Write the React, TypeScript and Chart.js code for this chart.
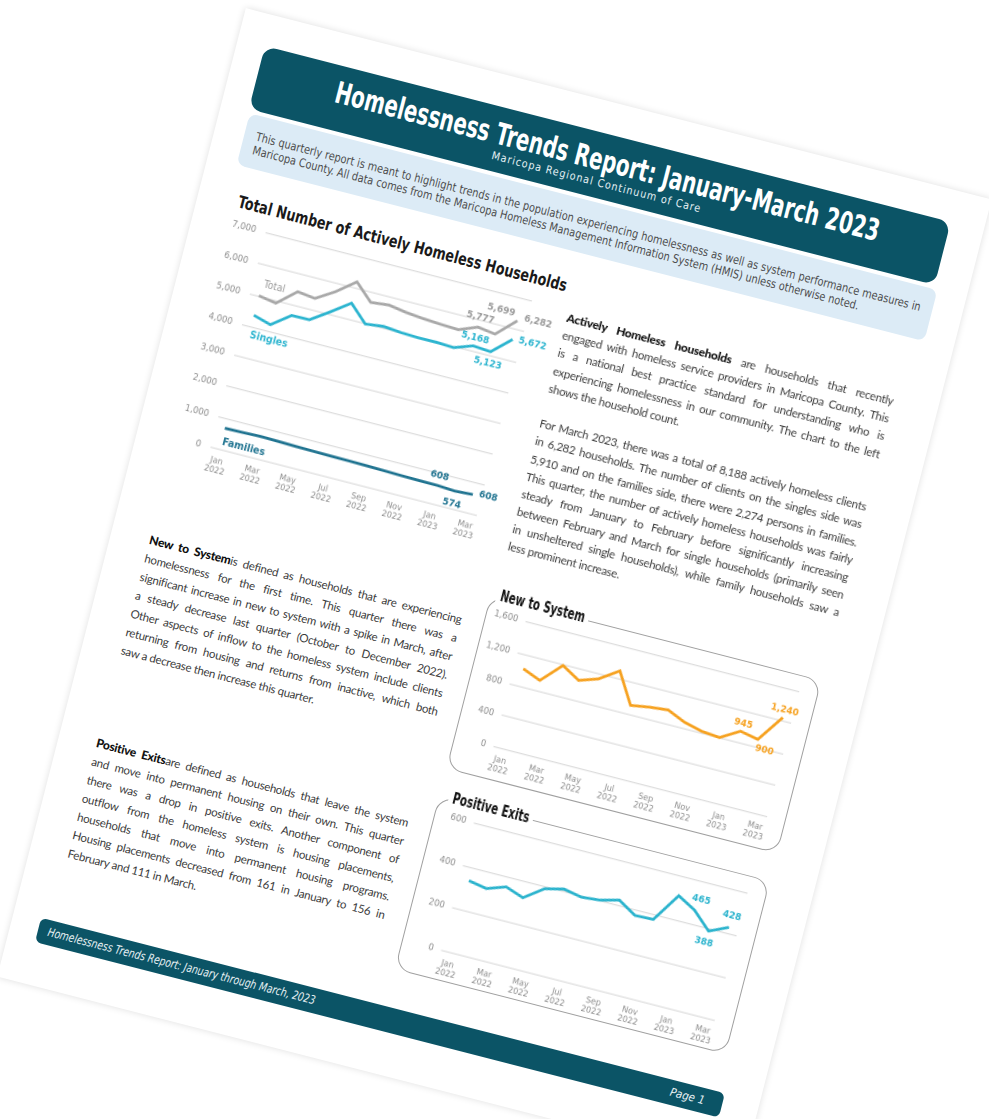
import React, { useEffect, useRef } from 'react';
import { Chart, registerables } from 'chart.js';

Chart.register(...registerables);

// ---------------- DATA ----------------
const months = [
  'Jan 2022', 'Feb 2022', 'Mar 2022', 'Apr 2022', 'May 2022', 'Jun 2022', 'Jul 2022', 'Aug 2022',
  'Sep 2022', 'Oct 2022', 'Nov 2022', 'Dec 2022', 'Jan 2023', 'Feb 2023', 'Mar 2023',
];
const totalHouseholds = [5016, 4922, 5446, 5374, 5745, 6213, 5692, 5755, 5664, 5608, 5571, 5546, 5777, 5699, 6282];
const singlesHouseholds = [4379, 4220, 4669, 4679, 5087, 5518, 4987, 5059, 5006, 4981, 4988, 4959, 5168, 5123, 5672];
const familiesHouseholds = [690, 700, 720, 705, 690, 680, 670, 665, 655, 640, 625, 615, 608, 574, 608];
const newToSystem = [1026, 936, 1188, 1056, 1136, 1298, 916, 954, 977, 880, 824, 804, 945, 900, 1240];
const positiveExits = [339, 324, 354, 325, 389, 410, 394, 402, 424, 374, 377, 511, 465, 388, 428];

const householdTicks = [0, 1000, 2000, 3000, 4000, 5000, 6000, 7000];
const newToSystemTicks = [0, 400, 800, 1200, 1600];
const positiveExitTicks = [0, 200, 400, 600];

// ---------------- TEXT ----------------
const reportTitle = 'Homelessness Trends Report: January-March 2023';
const reportSubtitle = 'Maricopa Regional Continuum of Care';
const introLines = [
  'This quarterly report is meant to highlight trends in the population experiencing homelessness as well as system performance measures in',
  'Maricopa County. All data comes from the Maricopa Homeless Management Information System (HMIS) unless otherwise noted.',
];
const mainChartTitle = 'Total Number of Actively Homeless Households';
const activeLines = [
  { b: 'Actively Homeless households', t: ' are households that recently' },
  { t: 'engaged with homeless service providers in Maricopa County. This' },
  { t: 'is a national best practice standard for understanding who is' },
  { t: 'experiencing homelessness in our community. The chart to the left' },
  { t: 'shows the household count.', end: true },
  { t: '', end: true },
  { t: 'For March 2023, there was a total of 8,188 actively homeless clients' },
  { t: 'in 6,282 households. The number of clients on the singles side was' },
  { t: '5,910 and on the families side, there were 2,274 persons in families.' },
  { t: 'This quarter, the number of actively homeless households was fairly' },
  { t: 'steady from January to February before significantly increasing' },
  { t: 'between February and March for single households (primarily seen' },
  { t: 'in unsheltered single households), while family households saw a' },
  { t: 'less prominent increase.', end: true },
];
const newSystemLines = [
  { b: 'New to System', t: 'is defined as households that are experiencing' },
  { t: 'homelessness for the first time. This quarter there was a' },
  { t: 'significant increase in new to system with a spike in March, after' },
  { t: 'a steady decrease last quarter (October to December 2022).' },
  { t: 'Other aspects of inflow to the homeless system include clients' },
  { t: 'returning from housing and returns from inactive, which both' },
  { t: 'saw a decrease then increase this quarter.', end: true },
];
const exitLines = [
  { b: 'Positive Exits', t: 'are defined as households that leave the system' },
  { t: 'and move into permanent housing on their own. This quarter' },
  { t: 'there was a drop in positive exits. Another component of' },
  { t: 'outflow from the homeless system is housing placements,' },
  { t: 'households that move into permanent housing programs.' },
  { t: 'Housing placements decreased from 161 in January to 156 in' },
  { t: 'February and 111 in March.', end: true },
];
const footerText = 'Homelessness Trends Report: January through March, 2023';
const pageText = 'Page 1';

// ---------------- STYLE ----------------
const NARROW = '"DejaVu Sans Condensed", "Liberation Sans Narrow", sans-serif';
const BODY = 'Lato, "Noto Sans", sans-serif';
const TEAL = '#0b5466';
const C_TOTAL = '#a8a8a8';
const C_SINGLES = '#2bb4cf';
const C_FAMILIES = '#1f7390';
const C_NTS = '#f6a11f';
const C_PE = '#2ab3cd';

let measureCtx: CanvasRenderingContext2D | null = null;
function measure(text: string, font: string) {
  if (!measureCtx) measureCtx = document.createElement('canvas').getContext('2d');
  measureCtx!.font = font;
  return measureCtx!.measureText(text).width;
}

function FitText({ text, left, top, width, size, weight = 400, italic = false, family = NARROW, color, lineHeight, bg, pad = 0, spacing = 0 }: any) {
  const font = `${italic ? 'italic ' : ''}${weight} ${size}px ${family}`;
  const natural = measure(text, font) + spacing * text.length;
  const k = width / natural;
  return (
    <div style={{ position: 'absolute', left: left - pad, top, width: width + 2 * pad, height: lineHeight, background: bg }}>
      <span
        style={{
          position: 'absolute',
          left: pad,
          top: 0,
          whiteSpace: 'nowrap',
          fontFamily: family,
          fontSize: size,
          fontWeight: weight,
          fontStyle: italic ? 'italic' : 'normal',
          letterSpacing: spacing ? spacing + 'px' : undefined,
          lineHeight: lineHeight + 'px',
          color,
          transform: `scaleX(${k})`,
          transformOrigin: '0 50%',
        }}
      >
        {text}
      </span>
    </div>
  );
}

const pointLabelPlugin = {
  id: 'pointLabels',
  afterDatasetsDraw(chart: any) {
    const ctx = chart.ctx;
    chart.data.datasets.forEach((ds: any, di: number) => {
      const meta = chart.getDatasetMeta(di);
      ctx.save();
      (ds.pointLabels || []).forEach((l: any) => {
        const pt = meta.data[l.index];
        if (!pt) return;
        const text = Number(ds.data[l.index]).toLocaleString('en-US');
        ctx.font = `bold 10px ${NARROW}`;
        ctx.fillStyle = ds.labelColor || ds.borderColor;
        ctx.textBaseline = 'middle';
        ctx.textAlign = l.pos === 'right' ? 'left' : 'center';
        ctx.fillText(text, pt.x + (l.dx || 0), pt.y + (l.dy || 0));
      });
      if (ds.seriesName) {
        const p0 = meta.data[0];
        ctx.font = `${ds.seriesBold ? 'bold ' : ''}10.5px ${NARROW}`;
        ctx.fillStyle = ds.labelColor || ds.borderColor;
        ctx.textAlign = 'left';
        ctx.textBaseline = 'middle';
        ctx.fillText(ds.seriesName, p0.x + ds.seriesDx, p0.y + ds.seriesDy);
      }
      ctx.restore();
    });
  },
};

function lineConfig(p: {
  datasets: any[];
  ticks: number[];
  yWidth: number;
  xHeight: number;
  padTop: number;
  padRight: number;
  yPad: number;
}) {
  return {
    type: 'line',
    data: {
      labels: months,
      datasets: p.datasets.map((d) => ({
        borderWidth: 2.8,
        pointRadius: 0,
        tension: 0,
        fill: false,
        ...d,
      })),
    },
    plugins: [pointLabelPlugin],
    options: {
      animation: false,
      responsive: true,
      maintainAspectRatio: false,
      devicePixelRatio: 2,
      layout: { padding: { top: p.padTop, right: p.padRight, left: 0, bottom: 0 } },
      plugins: { legend: { display: false }, tooltip: { enabled: false }, title: { display: false } },
      scales: {
        x: {
          offset: true,
          grid: { display: false, drawTicks: false },
          border: { display: false },
          ticks: {
            autoSkip: false,
            maxRotation: 0,
            minRotation: 0,
            padding: 7,
            color: '#8c8c8c',
            font: { family: NARROW, size: 9, lineHeight: 1.1 },
            callback: (_v: any, i: number) => (i % 2 === 0 ? months[i].split(' ') : ''),
          },
          afterFit: (s: any) => {
            s.height = p.xHeight;
          },
        },
        y: {
          min: p.ticks[0],
          max: p.ticks[p.ticks.length - 1],
          grid: { color: '#dddddd', lineWidth: 1.2, drawTicks: false },
          border: { display: false },
          ticks: {
            padding: p.yPad,
            color: '#8c8c8c',
            font: { family: NARROW, size: 9.5 },
            callback: (v: any) => Number(v).toLocaleString('en-US'),
          },
          afterBuildTicks: (axis: any) => {
            axis.ticks = p.ticks.map((value) => ({ value }));
          },
          afterFit: (s: any) => {
            s.width = p.yWidth;
          },
        },
      },
    },
  };
}

function ChartBox({ left, top, width, height, config }: any) {
  const ref = useRef<HTMLCanvasElement>(null);
  useEffect(() => {
    const chart = new Chart(ref.current as HTMLCanvasElement, config() as any);
    return () => chart.destroy();
  }, []);
  return (
    <div style={{ position: 'absolute', left, top, width, height }}>
      <canvas ref={ref} />
    </div>
  );
}

function Para({ left, top, width, lineHeight, lines, size }: any) {
  return (
    <div
      style={{
        position: 'absolute',
        left,
        top,
        width,
        fontFamily: BODY,
        fontSize: size,
        letterSpacing: '-0.25px',
        color: '#3b3b3b',
      }}
    >
      {lines.map((ln: any, i: number) => (
        <div
          key={i}
          style={{
            height: lineHeight,
            lineHeight: lineHeight + 'px',
            whiteSpace: 'nowrap',
            textAlign: ln.end ? 'left' : 'justify',
            textAlignLast: ln.end ? 'left' : 'justify',
          }}
        >
          {ln.b ? <b style={{ color: '#111', fontWeight: 900, fontSize: size + 0.5 }}>{ln.b}</b> : null}
          {ln.t}
        </div>
      ))}
    </div>
  );
}

function IntroText() {
  const font = `400 12px ${NARROW}`;
  const natural = measure(introLines[0], font);
  const k = Math.min(1, 686 / natural) * 0.995;
  return (
    <div
      style={{
        position: 'absolute',
        left: 14,
        top: 83,
        width: 686 / k,
        fontFamily: NARROW,
        fontSize: 12,
        color: '#4d4d4d',
        transform: `scaleX(${k})`,
        transformOrigin: '0 0',
      }}
    >
      <div style={{ height: 14, lineHeight: '14px', whiteSpace: 'nowrap', textAlign: 'justify', textAlignLast: 'justify' }}>{introLines[0]}</div>
      <div style={{ height: 14, lineHeight: '14px', whiteSpace: 'nowrap' }}>{introLines[1]}</div>
    </div>
  );
}

export default function App() {
  const mainCfg = () =>
    lineConfig({
      ticks: householdTicks,
      yWidth: 47,
      xHeight: 38,
      padTop: 12.6,
      padRight: 43,
      yPad: 10,
      datasets: [
        {
          data: familiesHouseholds,
          borderColor: C_FAMILIES,
          seriesName: 'Families',
          seriesBold: true,
          seriesDx: 1,
          seriesDy: 14,
          pointLabels: [
            { index: 12, pos: 'above', dy: -10 },
            { index: 13, pos: 'below', dy: 13 },
            { index: 14, pos: 'right', dx: 6, dy: -2 },
          ],
        },
        {
          data: singlesHouseholds,
          borderColor: C_SINGLES,
          seriesName: 'Singles',
          seriesBold: true,
          seriesDx: 1,
          seriesDy: 20,
          pointLabels: [
            { index: 12, pos: 'above', dy: -8 },
            { index: 13, pos: 'below', dy: 12 },
            { index: 14, pos: 'right', dx: 6, dy: -1 },
          ],
        },
        {
          data: totalHouseholds,
          borderColor: C_TOTAL,
          labelColor: '#9a9a9a',
          seriesName: 'Total',
          seriesBold: false,
          seriesDx: 2,
          seriesDy: -12,
          pointLabels: [
            { index: 12, pos: 'above', dy: -10 },
            { index: 13, pos: 'above', dy: -25 },
            { index: 14, pos: 'right', dx: 6, dy: -4 },
          ],
        },
      ],
    });

  const ntsCfg = () =>
    lineConfig({
      ticks: newToSystemTicks,
      yWidth: 38.7,
      xHeight: 31.5,
      padTop: 11.6,
      padRight: 17,
      yPad: 8,
      datasets: [
        {
          data: newToSystem,
          borderColor: C_NTS,
          pointLabels: [
            { index: 12, pos: 'above', dy: -8, dx: 1 },
            { index: 13, pos: 'below', dy: 9, dx: 9 },
            { index: 14, pos: 'above', dy: -8 },
          ],
        },
      ],
    });

  const peCfg = () =>
    lineConfig({
      ticks: positiveExitTicks,
      yWidth: 38.7,
      xHeight: 28,
      padTop: 14.6,
      padRight: 17,
      yPad: 8,
      datasets: [
        {
          data: positiveExits,
          borderColor: C_PE,
          pointLabels: [
            { index: 12, pos: 'above', dy: -12, dx: 4 },
            { index: 13, pos: 'below', dy: 12, dx: -2 },
            { index: 14, pos: 'above', dy: -12 },
          ],
        },
      ],
    });

  return (
    <div style={{ position: 'absolute', left: 0, top: 0, width: 989, height: 1119, overflow: 'hidden', background: '#fff' }}>
      <div style={{ position: 'absolute', left: 265, top: 46, width: 0, height: 0, transform: 'rotate(14.4deg)', transformOrigin: '0 0' }}>
        {/* page */}
        <div
          style={{
            position: 'absolute',
            left: -28,
            top: -32,
            width: 770,
            height: 1000,
            background: '#fff',
            boxShadow: '0 0 7px rgba(0,0,0,0.13)',
          }}
        />
        {/* header */}
        <div style={{ position: 'absolute', left: 0, top: 0, width: 708, height: 65, background: TEAL, borderRadius: 12 }} />
        <FitText text={reportTitle} left={80} top={8} width={561} size={30} weight={700} color="#ffffff" lineHeight={38} />
        <FitText text={reportSubtitle} left={247} top={43} width={216} size={11} spacing={1} color="#e3eff3" lineHeight={14} />

        {/* intro box */}
        <div style={{ position: 'absolute', left: 2, top: 69, width: 710, height: 53, background: '#dcebf6', borderRadius: 8 }} />
        <IntroText />

        {/* main chart */}
        <FitText text={mainChartTitle} left={13} top={147} width={339} size={17} weight={700} color="#1a1a1a" lineHeight={20} />
        <ChartBox left={0} top={165} width={365} height={275} config={mainCfg} />

        <Para left={360} top={179} width={337} lineHeight={18.2} lines={activeLines} size={11.5} />
        <Para left={11} top={497} width={322} lineHeight={19} lines={newSystemLines} size={11.5} />
        <Para left={10} top={707} width={322} lineHeight={19} lines={exitLines} size={11.5} />

        {/* New to System box */}
        <div style={{ position: 'absolute', left: 355, top: 476, width: 342, height: 179, border: '1.6px solid #a0a0a0', borderRadius: 16, boxSizing: 'border-box' }} />
        <ChartBox left={357} top={479} width={338} height={174} config={ntsCfg} />
        <FitText text="New to System" left={365} top={465} width={87} size={15} weight={700} color="#111" lineHeight={18} bg="#fff" pad={4} />

        {/* Positive Exits box */}
        <div style={{ position: 'absolute', left: 355, top: 683, width: 342, height: 179, border: '1.6px solid #a0a0a0', borderRadius: 16, boxSizing: 'border-box' }} />
        <ChartBox left={357} top={686} width={338} height={174} config={peCfg} />
        <FitText text="Positive Exits" left={369} top={673} width={79} size={15} weight={700} color="#111" lineHeight={18} bg="#fff" pad={4} />

        {/* footer */}
        <div style={{ position: 'absolute', left: 0, top: 900, width: 706, height: 25, background: TEAL, borderRadius: 6 }} />
        <FitText text={footerText} left={10} top={900} width={276} size={12} italic color="#e6f0f3" lineHeight={25} />
        <div
          style={{
            position: 'absolute',
            left: 600,
            top: 900,
            width: 88,
            height: 25,
            lineHeight: '25px',
            textAlign: 'right',
            fontFamily: NARROW,
            fontStyle: 'italic',
            fontSize: 11.5,
            color: '#e6f0f3',
            whiteSpace: 'nowrap',
          }}
        >
          {pageText}
        </div>
      </div>
    </div>
  );
}
